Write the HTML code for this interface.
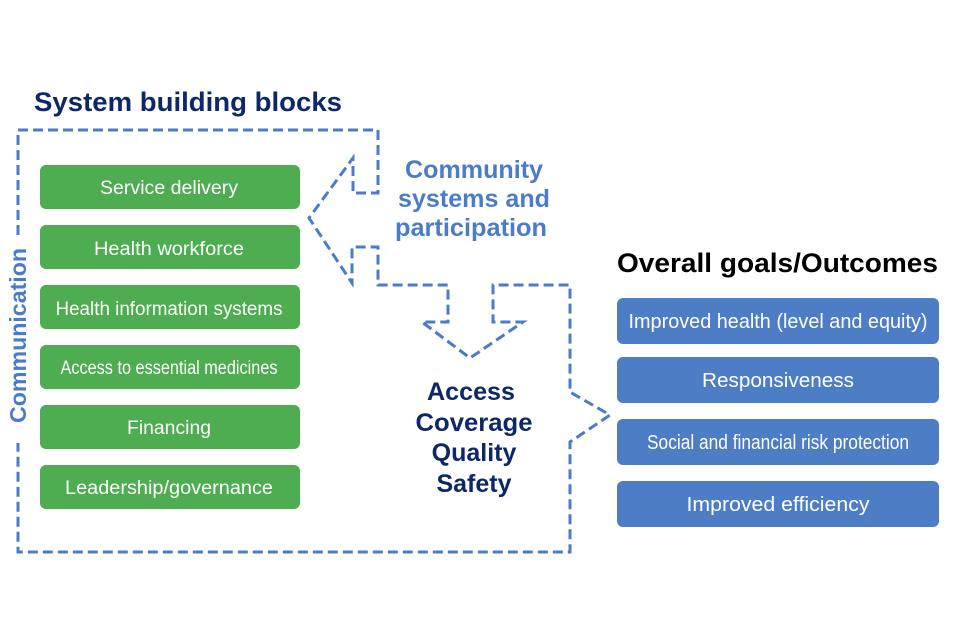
<!DOCTYPE html>
<html>
<head>
<meta charset="utf-8">
<style>
  html, body { margin: 0; padding: 0; background: #ffffff; }
  svg { display: block; }
  text { font-family: "Liberation Sans", Arial, sans-serif; }
</style>
</head>
<body>
<svg width="960" height="640" viewBox="0 0 960 640" xmlns="http://www.w3.org/2000/svg">
  <rect x="0" y="0" width="960" height="640" fill="#ffffff"/>

  <!-- Dashed outline -->
  <path d="M18,235 L18,130 L378,130 L378,193 L353,193 L353,158 L309,218 L352,283 L352,247 L378,247 L378,285 L448,285 L448,322 L422,322 L470,358 L523,322 L493,322 L493,285 L570,285 L570,392 L610,415 L570,442 L570,552 L18,552 L18,443"
        fill="none" stroke="#4a7cc9" stroke-width="3" stroke-dasharray="10 5" stroke-linejoin="miter"/>

  <!-- Titles -->
  <text x="34" y="111" font-size="27" font-weight="bold" fill="#0d2868" textLength="308" lengthAdjust="spacingAndGlyphs">System building blocks</text>
  <text x="617" y="272" font-size="27" font-weight="bold" fill="#000000" textLength="321" lengthAdjust="spacingAndGlyphs">Overall goals/Outcomes</text>

  <!-- Community text -->
  <g font-size="25" font-weight="bold" fill="#4a7cc9" text-anchor="middle">
    <text x="474" y="178" textLength="138" lengthAdjust="spacingAndGlyphs">Community</text>
    <text x="474" y="207" textLength="152" lengthAdjust="spacingAndGlyphs">systems and</text>
    <text x="471" y="236" textLength="152" lengthAdjust="spacingAndGlyphs">participation</text>
  </g>

  <!-- Access Coverage Quality Safety -->
  <g font-size="25" font-weight="bold" fill="#0d2868" text-anchor="middle">
    <text x="471" y="400" textLength="88" lengthAdjust="spacingAndGlyphs">Access</text>
    <text x="474" y="431" textLength="117" lengthAdjust="spacingAndGlyphs">Coverage</text>
    <text x="474" y="461">Quality</text>
    <text x="474" y="492">Safety</text>
  </g>

  <!-- Communication (rotated) -->
  <text x="0" y="0" font-size="23" font-weight="bold" fill="#4a7cc9" text-anchor="middle"
        transform="translate(26,335.5) rotate(-90)" textLength="175" lengthAdjust="spacingAndGlyphs">Communication</text>

  <!-- Green boxes -->
  <g fill="#4dad50">
    <rect x="40" y="165" width="260" height="44" rx="6"/>
    <rect x="40" y="225" width="260" height="44" rx="6"/>
    <rect x="40" y="285" width="260" height="44" rx="6"/>
    <rect x="40" y="345" width="260" height="44" rx="6"/>
    <rect x="40" y="405" width="260" height="44" rx="6"/>
    <rect x="40" y="465" width="260" height="44" rx="6"/>
  </g>
  <g font-size="19" fill="#ffffff" text-anchor="middle">
    <text x="169" y="194" textLength="138" lengthAdjust="spacingAndGlyphs">Service delivery</text>
    <text x="169" y="255" textLength="150" lengthAdjust="spacingAndGlyphs">Health workforce</text>
    <text x="169" y="315" textLength="227" lengthAdjust="spacingAndGlyphs">Health information systems</text>
    <text x="169" y="374" textLength="217" lengthAdjust="spacingAndGlyphs">Access to essential medicines</text>
    <text x="169" y="434" textLength="84" lengthAdjust="spacingAndGlyphs">Financing</text>
    <text x="169" y="494" textLength="208" lengthAdjust="spacingAndGlyphs">Leadership/governance</text>
  </g>

  <!-- Blue boxes -->
  <g fill="#4d7ec5">
    <rect x="617" y="298" width="322" height="46" rx="6"/>
    <rect x="617" y="357" width="322" height="46" rx="6"/>
    <rect x="617" y="419" width="322" height="46" rx="6"/>
    <rect x="617" y="481" width="322" height="46" rx="6"/>
  </g>
  <g font-size="20" fill="#ffffff" text-anchor="middle">
    <text x="778" y="328" textLength="299" lengthAdjust="spacingAndGlyphs">Improved health (level and equity)</text>
    <text x="778" y="387" textLength="152" lengthAdjust="spacingAndGlyphs">Responsiveness</text>
    <text x="778" y="449" textLength="262" lengthAdjust="spacingAndGlyphs">Social and financial risk protection</text>
    <text x="778" y="511" textLength="183" lengthAdjust="spacingAndGlyphs">Improved efficiency</text>
  </g>
</svg>
</body>
</html>
